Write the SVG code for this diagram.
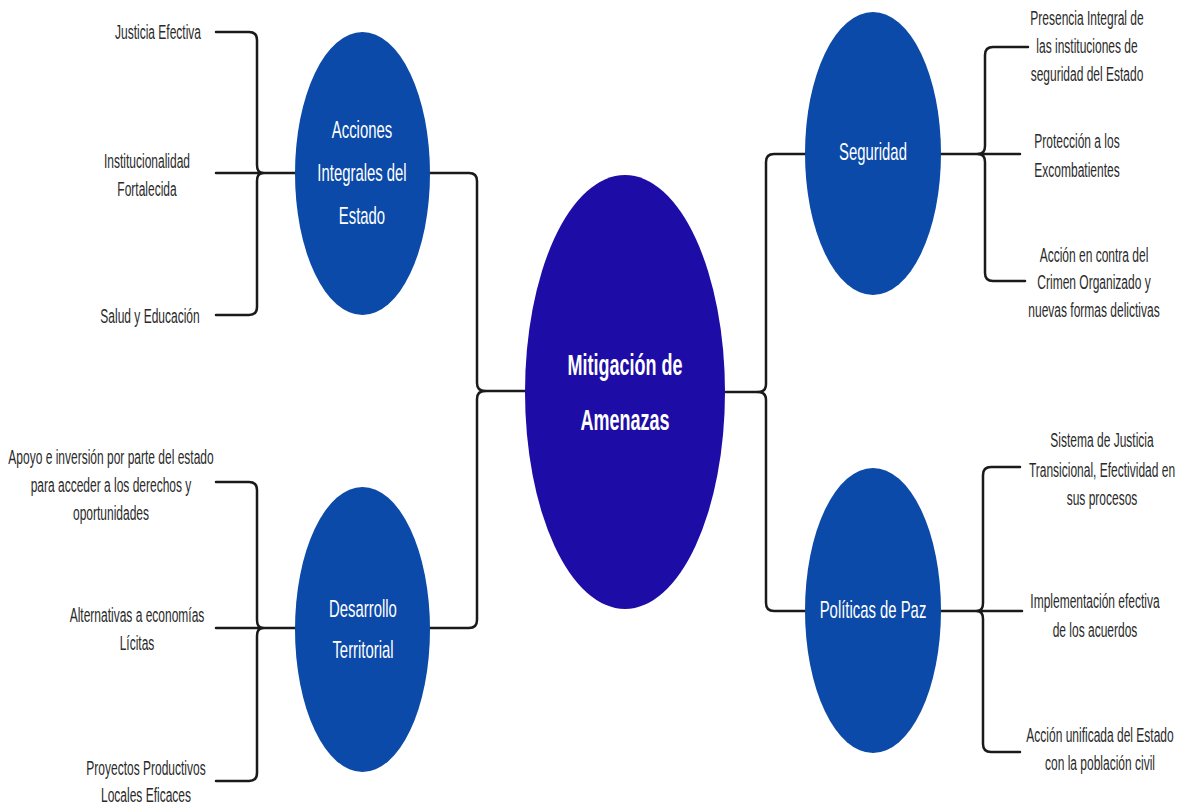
<svg xmlns="http://www.w3.org/2000/svg" width="1181" height="805" viewBox="0 0 1181 805">
<style>
.bg{fill:#ffffff}
.node{fill:#0b4aa8}
.main{fill:#1d0ca6}
.conn path{fill:none;stroke:#1a1a1a;stroke-width:2.5;stroke-linecap:round;stroke-linejoin:round}
.lbl{font-family:"Liberation Sans",Arial,sans-serif;font-size:20px;fill:#2a2a2a;text-anchor:middle}
.ntx{font-family:"Liberation Sans",Arial,sans-serif;font-size:24px;fill:#ffffff;text-anchor:middle}
.mtx{font-family:"Liberation Sans",Arial,sans-serif;font-size:30px;font-weight:bold;fill:#ffffff;text-anchor:middle}
</style>
<rect class="bg" x="0" y="0" width="1181" height="805"/>
<g id="connectors" class="conn">
<path d="M216,32 H249 Q257,32 257,40 V165 Q257,173 263,173 Q257,173 257,181 V307 Q257,315 249,315 H216"/>
<path d="M216,173 H295"/>
<path d="M216,482 H249 Q257,482 257,490 V620 Q257,628 263,628 Q257,628 257,636 V773 Q257,781 249,781 H216"/>
<path d="M216,628 H295"/>
<path d="M430,173 H469 Q477,173 477,181 V383 Q477,391 485,391 Q477,391 477,399 V620 Q477,628 469,628 H430"/>
<path d="M485,391 H525"/>
<path d="M805,154 H774 Q766,154 766,162 V384 Q766,392 758,392 Q766,392 766,400 V603 Q766,611 774,611 H805"/>
<path d="M726,392 H758"/>
<path d="M1028,47 H993 Q985,47 985,55 V146 Q985,154 978,154 Q985,154 985,162 V273 Q985,281 993,281 H1025"/>
<path d="M941,154 H1020"/>
<path d="M1020,467 H991 Q983,467 983,475 V603 Q983,611 977,611 Q983,611 983,619 V744 Q983,752 991,752 H1020"/>
<path d="M941,611 H1022"/>
</g>
<g id="n-main">
<ellipse class="main" cx="625" cy="392" rx="100" ry="217"/>
<text class="mtx" transform="translate(625,375) scale(0.6,1)"><tspan x="0" y="0">Mitigación de</tspan><tspan x="0" y="55">Amenazas</tspan></text>
</g>
<g id="n-acciones">
<ellipse class="node" cx="362.5" cy="173.5" rx="67.5" ry="141.5"/>
<text class="ntx" transform="translate(362,138) scale(0.62,1)"><tspan x="0" y="0">Acciones</tspan><tspan x="0" y="43">Integrales del</tspan><tspan x="0" y="86">Estado</tspan></text>
</g>
<g id="n-desarrollo">
<ellipse class="node" cx="362.5" cy="629.5" rx="67.5" ry="142.5"/>
<text class="ntx" transform="translate(363,617) scale(0.62,1)"><tspan x="0" y="0">Desarrollo</tspan><tspan x="0" y="41">Territorial</tspan></text>
</g>
<g id="n-seguridad">
<ellipse class="node" cx="873" cy="153.5" rx="68" ry="141.5"/>
<text class="ntx" transform="translate(873,160) scale(0.62,1)"><tspan x="0" y="0">Seguridad</tspan></text>
</g>
<g id="n-politicas">
<ellipse class="node" cx="873" cy="610.5" rx="68" ry="142.5"/>
<text class="ntx" transform="translate(873,618) scale(0.62,1)"><tspan x="0" y="0">Políticas de Paz</tspan></text>
</g>
<g id="l-justicia">
<text class="lbl" transform="translate(158,39) scale(0.6,1)"><tspan x="0" y="0">Justicia Efectiva</tspan></text>
</g>
<g id="l-institucionalidad">
<text class="lbl" transform="translate(147,168) scale(0.6,1)"><tspan x="0" y="0">Institucionalidad</tspan><tspan x="0" y="28">Fortalecida</tspan></text>
</g>
<g id="l-salud">
<text class="lbl" transform="translate(150,323) scale(0.6,1)"><tspan x="0" y="0">Salud y Educación</tspan></text>
</g>
<g id="l-apoyo">
<text class="lbl" transform="translate(111,464) scale(0.6,1)"><tspan x="0" y="0">Apoyo e inversión por parte del estado</tspan><tspan x="0" y="28">para acceder a los derechos y</tspan><tspan x="0" y="56">oportunidades</tspan></text>
</g>
<g id="l-alternativas">
<text class="lbl" transform="translate(137,622) scale(0.6,1)"><tspan x="0" y="0">Alternativas a economías</tspan><tspan x="0" y="28">Lícitas</tspan></text>
</g>
<g id="l-proyectos">
<text class="lbl" transform="translate(146,775) scale(0.6,1)"><tspan x="0" y="0">Proyectos Productivos</tspan><tspan x="0" y="27">Locales Eficaces</tspan></text>
</g>
<g id="l-presencia">
<text class="lbl" transform="translate(1087,25) scale(0.6,1)"><tspan x="0" y="0">Presencia Integral de</tspan><tspan x="0" y="28">las instituciones de</tspan><tspan x="0" y="56">seguridad del Estado</tspan></text>
</g>
<g id="l-proteccion">
<text class="lbl" transform="translate(1077,148) scale(0.6,1)"><tspan x="0" y="0">Protección a los</tspan><tspan x="0" y="29">Excombatientes</tspan></text>
</g>
<g id="l-accion-crimen">
<text class="lbl" transform="translate(1094,262) scale(0.6,1)"><tspan x="0" y="0">Acción en contra del</tspan><tspan x="0" y="27">Crimen Organizado y</tspan><tspan x="0" y="55">nuevas formas delictivas</tspan></text>
</g>
<g id="l-sistema">
<text class="lbl" transform="translate(1102,447) scale(0.6,1)"><tspan x="0" y="0">Sistema de Justicia</tspan><tspan x="0" y="30">Transicional, Efectividad en</tspan><tspan x="0" y="58">sus procesos</tspan></text>
</g>
<g id="l-implementacion">
<text class="lbl" transform="translate(1095,608) scale(0.6,1)"><tspan x="0" y="0">Implementación efectiva</tspan><tspan x="0" y="29">de los acuerdos</tspan></text>
</g>
<g id="l-accion-unificada">
<text class="lbl" transform="translate(1100,742) scale(0.6,1)"><tspan x="0" y="0">Acción unificada del Estado</tspan><tspan x="0" y="28">con la población civil</tspan></text>
</g>
</svg>
